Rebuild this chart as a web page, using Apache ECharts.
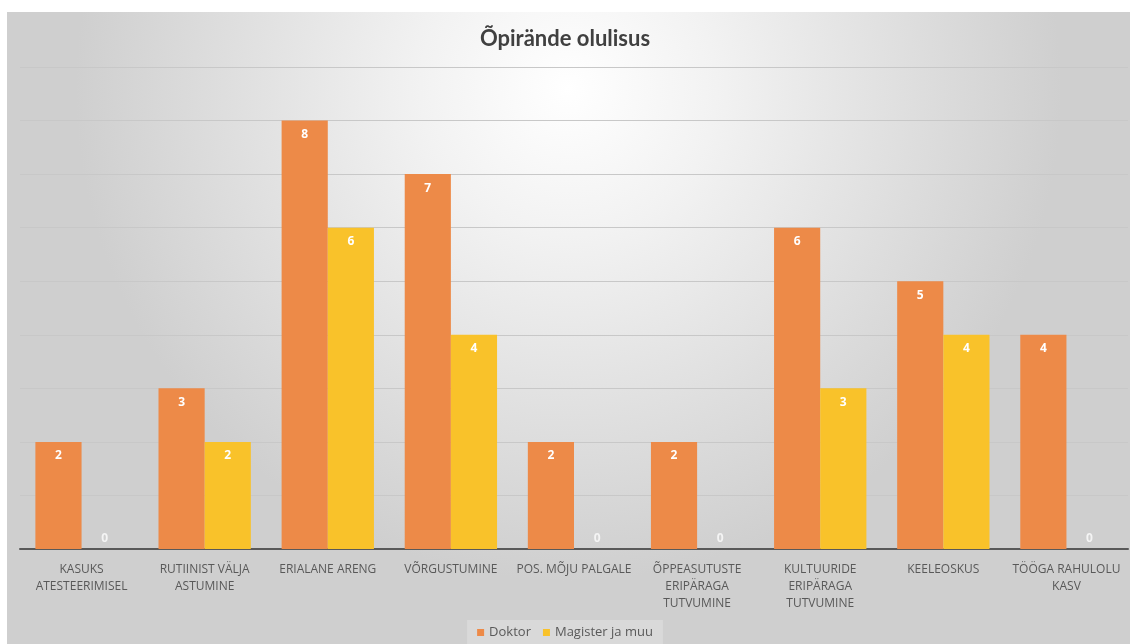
<!DOCTYPE html>
<html>
<head>
<meta charset="utf-8">
<script src="https://cdn.jsdelivr.net/npm/echarts@6/dist/echarts.min.js"></script>
<style>
  html, body { margin: 0; padding: 0; background: #ffffff; }
  #chart { width: 1130px; height: 644px; }
</style>
</head>
<body>
<div id="chart"></div>
<script>
// Categories (axis labels, line breaks as shown under the axis)
const categories = [
  'KASUKS\nATESTEERIMISEL',
  'RUTIINIST VÄLJA\nASTUMINE',
  'ERIALANE ARENG',
  'VÕRGUSTUMINE',
  'POS. MÕJU PALGALE',
  'ÕPPEASUTUSTE\nERIPÄRAGA\nTUTVUMINE',
  'KULTUURIDE\nERIPÄRAGA\nTUTVUMINE',
  'KEELEOSKUS',
  'TÖÖGA RAHULOLU\nKASV'
];
const doktor = [2, 3, 8, 7, 2, 2, 6, 5, 4];
const magister = [0, 2, 6, 4, 0, 0, 3, 4, 0];

const seriesNames = ['Doktor', 'Magister ja muu'];
const colors = ['#ED8A48', '#F9C22A'];

// zero-height bars keep their value label just above the axis line
function toData(values) {
  return values.map(v => v === 0
    ? { value: v, label: { position: 'top', distance: 4, color: '#f4f4f4' } }
    : { value: v });
}

const chart = echarts.init(document.getElementById('chart'), null, { renderer: 'canvas' });

const barLabel = {
  show: true,
  position: 'insideTop',
  distance: 8,
  color: '#ffffff',
  fontFamily: 'Open Sans',
  fontWeight: 'bold',
  fontSize: 12
};

chart.setOption({
  animation: false,
  graphic: [{
    type: 'rect',
    z: -10,
    silent: true,
    shape: { x: 7, y: 12, width: 1123, height: 632 },
    style: {
      fill: {
        type: 'radial',
        x: 0.5, y: 0.12, r: 0.78,
        colorStops: [
          { offset: 0, color: '#ffffff' },
          { offset: 0.3, color: '#f2f2f2' },
          { offset: 1, color: '#cfcfcf' }
        ]
      }
    }
  }],
  title: {
    text: 'Õpirände olulisus',
    left: 'center',
    top: 23,
    textStyle: {
      fontFamily: 'Lato',
      fontWeight: 'bold',
      fontSize: 22,
      color: '#404040'
    }
  },
  legend: {
    bottom: 0,
    left: 'center',
    itemWidth: 7,
    itemHeight: 7,
    itemGap: 12,
    icon: 'rect',
    padding: [6, 10, 5, 10],
    backgroundColor: 'rgba(255,255,255,0.22)',
    textStyle: { fontFamily: 'Open Sans', fontSize: 13, color: '#595959' },
    data: seriesNames
  },
  grid: { left: 20, right: 2, top: 67, bottom: 95 },
  xAxis: {
    type: 'category',
    data: categories,
    axisTick: { show: false },
    axisLine: { lineStyle: { color: '#595959', width: 2 } },
    axisLabel: {
      interval: 0,
      margin: 12,
      color: '#595959',
      fontFamily: 'Open Sans',
      fontSize: 12,
      lineHeight: 17,
      align: 'center'
    }
  },
  yAxis: {
    type: 'value',
    min: 0,
    max: 9,
    interval: 1,
    axisLabel: { show: false },
    axisLine: { show: false },
    axisTick: { show: false },
    splitLine: {
      lineStyle: { color: ['#c8c8c8'], width: 1 }
    }
  },
  series: [
    {
      name: seriesNames[0],
      type: 'bar',
      data: toData(doktor),
      itemStyle: { color: colors[0] },
      barWidth: '37.5%',
      barGap: '0%',
      label: barLabel
    },
    {
      name: seriesNames[1],
      type: 'bar',
      data: toData(magister),
      itemStyle: { color: colors[1] },
      barWidth: '37.5%',
      label: barLabel
    }
  ]
});
</script>
</body>
</html>
